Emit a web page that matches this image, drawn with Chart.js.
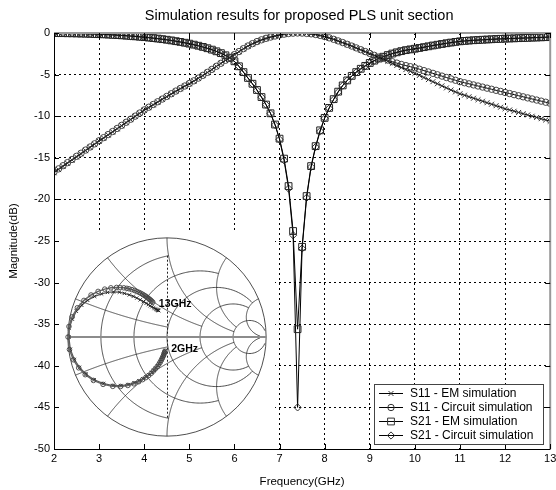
<!DOCTYPE html>
<html>
<head>
<meta charset="utf-8">
<script src="https://cdn.jsdelivr.net/npm/chart.js@4.4.0/dist/chart.umd.min.js"></script>
<style>
  html, body { margin: 0; padding: 0; background: #fff; }
  #wrap { position: relative; width: 556px; height: 490px; }
  #mainChart { position: absolute; left: 0; top: 0; }
  #smithChart { position: absolute; left: 59px; top: 229px; }
</style>
</head>
<body>
<div id="wrap">
  <canvas id="mainChart" width="556" height="490"></canvas>
  <canvas id="smithChart" width="216" height="216"></canvas>
</div>
<script>
// frequency points (GHz)
const freqs = [
  2, 2.1, 2.2, 2.3, 2.4, 2.5, 2.6, 2.7, 2.8, 2.9,
  3, 3.1, 3.2, 3.3, 3.4, 3.5, 3.6, 3.7, 3.8, 3.9,
  4, 4.1, 4.2, 4.3, 4.4, 4.5, 4.6, 4.7, 4.8, 4.9,
  5, 5.1, 5.2, 5.3, 5.4, 5.5, 5.6, 5.7, 5.8, 5.9,
  6, 6.1, 6.2, 6.3, 6.4, 6.5, 6.6, 6.7, 6.8, 6.9,
  7, 7.1, 7.2, 7.3, 7.4, 7.5, 7.6, 7.7, 7.8, 7.9,
  8, 8.1, 8.2, 8.3, 8.4, 8.5, 8.6, 8.7, 8.8, 8.9,
  9, 9.1, 9.2, 9.3, 9.4, 9.5, 9.6, 9.7, 9.8, 9.9,
  10, 10.1, 10.2, 10.3, 10.4, 10.5, 10.6, 10.7, 10.8, 10.9,
  11, 11.1, 11.2, 11.3, 11.4, 11.5, 11.6, 11.7, 11.8, 11.9,
  12, 12.1, 12.2, 12.3, 12.4, 12.5, 12.6, 12.7, 12.8, 12.9,
  13
];

// magnitudes in dB
const s11EM = [
  -16.8, -16.42, -16.04, -15.66, -15.28, -14.9, -14.52, -14.14, -13.76, -13.38,
  -13.0, -12.63, -12.26, -11.89, -11.52, -11.15, -10.78, -10.41, -10.04, -9.67,
  -9.3, -8.97, -8.64, -8.31, -7.98, -7.66, -7.34, -7.02, -6.7, -6.4,
  -6.1, -5.78, -5.45, -5.12, -4.76, -4.4, -4.03, -3.66, -3.3, -2.95,
  -2.62, -2.25, -1.9, -1.58, -1.3, -1.05, -0.84, -0.66, -0.5, -0.37,
  -0.25, -0.15, -0.07, -0.02, 0, -0.01, -0.05, -0.11, -0.19, -0.3,
  -0.44, -0.59, -0.77, -0.96, -1.16, -1.37, -1.58, -1.8, -2.02, -2.24,
  -2.47, -2.7, -2.93, -3.15, -3.4, -3.65, -3.9, -4.15, -4.4, -4.6,
  -4.85, -5.1, -5.35, -5.6, -5.85, -6.1, -6.35, -6.6, -6.85, -7.08,
  -7.3, -7.48, -7.66, -7.84, -8.02, -8.2, -8.38, -8.56, -8.74, -8.92,
  -9.1, -9.25, -9.4, -9.55, -9.7, -9.85, -10.0, -10.15, -10.3, -10.45,
  -10.6
];
const s11Circuit = [
  -16.7, -16.33, -15.95, -15.58, -15.2, -14.82, -14.45, -14.07, -13.7, -13.32,
  -12.95, -12.58, -12.21, -11.84, -11.47, -11.1, -10.73, -10.36, -9.99, -9.62,
  -9.25, -8.92, -8.59, -8.26, -7.94, -7.62, -7.3, -6.98, -6.67, -6.37,
  -6.07, -5.75, -5.42, -5.09, -4.73, -4.37, -4.0, -3.64, -3.28, -2.93,
  -2.6, -2.23, -1.88, -1.56, -1.28, -1.03, -0.82, -0.64, -0.49, -0.36,
  -0.24, -0.14, -0.06, -0.02, 0, -0.01, -0.05, -0.1, -0.18, -0.29,
  -0.43, -0.58, -0.76, -0.95, -1.15, -1.36, -1.57, -1.79, -2.01, -2.23,
  -2.46, -2.68, -2.9, -3.05, -3.25, -3.45, -3.62, -3.78, -3.92, -4.05,
  -4.18, -4.35, -4.52, -4.68, -4.85, -5.02, -5.18, -5.35, -5.52, -5.68,
  -5.85, -5.98, -6.11, -6.24, -6.37, -6.5, -6.63, -6.76, -6.89, -7.02,
  -7.15, -7.28, -7.41, -7.54, -7.67, -7.8, -7.93, -8.06, -8.19, -8.32,
  -8.45
];
const s21EM = [
  0, -0.01, -0.02, -0.03, -0.04, -0.05, -0.07, -0.08, -0.1, -0.12,
  -0.14, -0.16, -0.19, -0.22, -0.25, -0.28, -0.32, -0.36, -0.4, -0.45,
  -0.5, -0.55, -0.61, -0.67, -0.74, -0.81, -0.89, -0.98, -1.07, -1.17,
  -1.28, -1.4, -1.53, -1.67, -1.83, -2.0, -2.2, -2.42, -2.68, -2.98,
  -3.4, -4.0, -4.7, -5.4, -6.1, -6.85, -7.7, -8.6, -9.65, -11.0,
  -12.7, -15.1, -18.4, -23.8, -35.6, -25.7, -19.6, -16.0, -13.6, -11.7,
  -10.2, -9.0, -7.95, -7.05, -6.3, -5.7, -5.15, -4.7, -4.3, -3.95,
  -3.6, -3.32, -3.07, -2.85, -2.65, -2.47, -2.32, -2.18, -2.06, -1.97,
  -1.89, -1.8, -1.7, -1.6, -1.5, -1.41, -1.32, -1.23, -1.15, -1.07,
  -1.0, -0.95, -0.91, -0.87, -0.84, -0.81, -0.78, -0.75, -0.72, -0.7,
  -0.68, -0.66, -0.64, -0.62, -0.6, -0.58, -0.56, -0.54, -0.52, -0.5,
  -0.48
];
const s21Circuit = [
  0, -0.01, -0.02, -0.03, -0.04, -0.06, -0.07, -0.09, -0.11, -0.13,
  -0.15, -0.17, -0.2, -0.23, -0.26, -0.3, -0.34, -0.38, -0.42, -0.47,
  -0.52, -0.57, -0.63, -0.69, -0.76, -0.83, -0.91, -1.0, -1.09, -1.19,
  -1.3, -1.42, -1.55, -1.69, -1.85, -2.02, -2.22, -2.44, -2.7, -3.0,
  -3.42, -4.02, -4.72, -5.42, -6.12, -6.88, -7.72, -8.62, -9.68, -11.05,
  -12.8, -15.3, -18.7, -24.3, -45.0, -25.9, -19.8, -16.1, -13.7, -11.8,
  -10.25, -9.05, -8.0, -7.1, -6.33, -5.72, -5.17, -4.72, -4.32, -3.97,
  -3.62, -3.34, -3.09, -2.87, -2.67, -2.49, -2.34, -2.2, -2.08, -1.99,
  -1.91, -1.82, -1.72, -1.62, -1.52, -1.43, -1.34, -1.25, -1.17, -1.09,
  -1.02, -0.97, -0.93, -0.89, -0.86, -0.83, -0.8, -0.77, -0.74, -0.72,
  -0.7, -0.68, -0.66, -0.64, -0.62, -0.6, -0.58, -0.56, -0.54, -0.52,
  -0.5
];

// S11 on the Smith chart, [re, im] every 0.2 GHz from 2 to 13 GHz
const smithEM = [
  [-0.018, -0.135], [-0.022, -0.148], [-0.027, -0.162], [-0.032, -0.177], [-0.039, -0.193],
  [-0.047, -0.21], [-0.056, -0.228], [-0.067, -0.248], [-0.08, -0.269], [-0.096, -0.291],
  [-0.115, -0.314], [-0.134, -0.335], [-0.156, -0.358], [-0.182, -0.38], [-0.211, -0.402],
  [-0.243, -0.422], [-0.282, -0.443], [-0.331, -0.463], [-0.392, -0.48], [-0.465, -0.49],
  [-0.544, -0.489], [-0.64, -0.47], [-0.735, -0.432], [-0.817, -0.375], [-0.882, -0.307],
  [-0.935, -0.227], [-0.975, -0.124], [-0.99, 0.0], [-0.985, 0.09], [-0.955, 0.18],
  [-0.915, 0.26], [-0.86, 0.32], [-0.8, 0.37], [-0.73, 0.41], [-0.66, 0.435],
  [-0.6, 0.45], [-0.54, 0.455], [-0.48, 0.452], [-0.43, 0.44], [-0.38, 0.425],
  [-0.34, 0.41], [-0.305, 0.393], [-0.27, 0.375], [-0.238, 0.357], [-0.21, 0.34],
  [-0.188, 0.327], [-0.17, 0.315], [-0.152, 0.305], [-0.135, 0.295], [-0.122, 0.287],
  [-0.11, 0.28], [-0.102, 0.276], [-0.095, 0.272], [-0.09, 0.27], [-0.087, 0.268],
  [-0.084, 0.266]
];
const smithCircuit = [
  [-0.021, -0.143], [-0.025, -0.156], [-0.03, -0.17], [-0.035, -0.185], [-0.042, -0.201],
  [-0.05, -0.218], [-0.059, -0.236], [-0.07, -0.256], [-0.083, -0.277], [-0.099, -0.299],
  [-0.118, -0.322], [-0.137, -0.343], [-0.159, -0.366], [-0.185, -0.388], [-0.214, -0.41],
  [-0.246, -0.43], [-0.285, -0.451], [-0.334, -0.472], [-0.395, -0.489], [-0.468, -0.499],
  [-0.547, -0.498], [-0.645, -0.478], [-0.742, -0.438], [-0.825, -0.38], [-0.891, -0.311],
  [-0.944, -0.23], [-0.984, -0.126], [-0.998, 0.0], [-0.989, 0.106], [-0.957, 0.203],
  [-0.904, 0.295], [-0.838, 0.369], [-0.766, 0.424], [-0.695, 0.46], [-0.628, 0.483],
  [-0.566, 0.496], [-0.509, 0.5], [-0.473, 0.499], [-0.435, 0.496], [-0.405, 0.491],
  [-0.382, 0.486], [-0.354, 0.478], [-0.327, 0.469], [-0.303, 0.459], [-0.28, 0.449],
  [-0.262, 0.44], [-0.245, 0.43], [-0.231, 0.421], [-0.218, 0.413], [-0.205, 0.404],
  [-0.193, 0.395], [-0.182, 0.386], [-0.171, 0.377], [-0.161, 0.368], [-0.152, 0.359],
  [-0.143, 0.35]
];

const seriesLabels = ['S11 - EM simulation', 'S11 - Circuit simulation', 'S21 - EM simulation', 'S21 - Circuit simulation'];
const chartTitle = 'Simulation results for proposed PLS unit section';
const xTitle = 'Frequency(GHz)';
const yTitle = 'Magnitude(dB)';
const startLabel = '2GHz';
const endLabel = '13GHz';

// smith grid: [value, limit]
const rCircles = [[0.2, 1], [0.5, 2], [1, 5], [2, 5], [5, 30]];
const xArcs = [[0.2, 1], [0.5, 2], [1, 5], [2, 5], [5, 30]];

// area of the main axes covered by the inset (in data units)
const insetArea = { x0: 2, x1: 6.9, y0: -50, y1: -23.7 };

const FONT = '"Liberation Sans", Arial, Helvetica, sans-serif';
Chart.defaults.font.family = FONT;
Chart.defaults.color = '#000';

const toPoints = arr => arr.map((v, i) => ({ x: freqs[i], y: v }));

function drawMarker(ctx, style, x, y, r) {
  ctx.beginPath();
  if (style === 'circle') {
    ctx.arc(x, y, r, 0, Math.PI * 2);
  } else if (style === 'rect') {
    const s = r * Math.SQRT1_2;
    ctx.rect(x - s, y - s, 2 * s, 2 * s);
  } else if (style === 'rectRot') {
    ctx.moveTo(x, y - r); ctx.lineTo(x + r, y); ctx.lineTo(x, y + r); ctx.lineTo(x - r, y); ctx.closePath();
  } else {
    const s = r * Math.SQRT1_2;
    ctx.moveTo(x - s, y - s); ctx.lineTo(x + s, y + s);
    ctx.moveTo(x + s, y - s); ctx.lineTo(x - s, y + s);
  }
  ctx.stroke();
}

const matlabAxes = {
  id: 'matlabAxes',
  beforeDatasetsDraw(chart) {
    // white background of the inset
    const { ctx, scales: { x, y } } = chart;
    const l = x.getPixelForValue(insetArea.x0), r = x.getPixelForValue(insetArea.x1);
    const t = y.getPixelForValue(insetArea.y1), b = y.getPixelForValue(insetArea.y0);
    ctx.save();
    ctx.fillStyle = '#fff';
    ctx.fillRect(l, t, r - l, b - t);
    ctx.restore();
  },
  afterDraw(chart) {
    const { ctx, chartArea: a, scales: { x, y } } = chart;
    ctx.save();
    // box
    ctx.strokeStyle = '#999';
    ctx.lineWidth = 2;
    ctx.beginPath();
    ctx.moveTo(a.left, a.top); ctx.lineTo(a.right, a.top); ctx.lineTo(a.right, a.bottom);
    ctx.stroke();
    ctx.strokeStyle = '#000';
    ctx.lineWidth = 1;
    ctx.beginPath();
    ctx.moveTo(a.left + 0.5, a.top); ctx.lineTo(a.left + 0.5, a.bottom + 0.5); ctx.lineTo(a.right, a.bottom + 0.5);
    // inward ticks
    x.ticks.forEach(tk => {
      const px = Math.round(x.getPixelForValue(tk.value)) + 0.5;
      ctx.moveTo(px, a.bottom); ctx.lineTo(px, a.bottom - 5);
      ctx.moveTo(px, a.top); ctx.lineTo(px, a.top + 5);
    });
    y.ticks.forEach(tk => {
      const py = Math.round(y.getPixelForValue(tk.value)) + 0.5;
      ctx.moveTo(a.left, py); ctx.lineTo(a.left + 5, py);
      ctx.moveTo(a.right, py); ctx.lineTo(a.right - 5, py);
    });
    ctx.stroke();

    // title
    ctx.fillStyle = '#000';
    ctx.font = '14.5px ' + FONT;
    ctx.textAlign = 'center';
    ctx.textBaseline = 'middle';
    ctx.fillText(chartTitle, (a.left + a.right) / 2 - 3, 16);

    // legend
    ctx.font = '12px ' + FONT;
    const sets = chart.data.datasets;
    const rowH = 14, lineLen = 24, pad = 5;
    const textW = Math.max(...sets.map(d => ctx.measureText(d.label).width));
    const w = Math.round(pad + lineLen + 7 + textW + 10);
    const h = rowH * sets.length + 4;
    const right = Math.round(a.right) - 7, bottom = Math.round(a.bottom) - 5;
    const left = right - w, top = bottom - h;
    ctx.fillStyle = '#fff';
    ctx.fillRect(left, top, w, h);
    ctx.strokeStyle = '#444';
    ctx.strokeRect(left + 0.5, top + 0.5, w, h);
    sets.forEach((d, i) => {
      const cy = top + 9.5 + i * rowH;
      ctx.strokeStyle = '#000';
      ctx.lineWidth = 1;
      ctx.beginPath();
      ctx.moveTo(left + pad, cy); ctx.lineTo(left + pad + lineLen, cy);
      ctx.stroke();
      ctx.strokeStyle = '#333';
      drawMarker(ctx, d.pointStyle, left + pad + lineLen / 2, cy, d.pointRadius);
      ctx.fillStyle = '#000';
      ctx.textAlign = 'left';
      ctx.textBaseline = 'middle';
      ctx.fillText(d.label, left + pad + lineLen + 7, cy + 0.5);
    });
    ctx.restore();
  }
};

new Chart(document.getElementById('mainChart').getContext('2d'), {
  type: 'line',
  data: {
    datasets: [{
      label: seriesLabels[0],
      data: toPoints(s11EM),
      borderColor: '#000',
      borderWidth: 1,
      pointStyle: 'crossRot',
      pointRadius: 3.5,
      pointBorderColor: '#333',
      pointBorderWidth: 1
    }, {
      label: seriesLabels[1],
      data: toPoints(s11Circuit),
      borderColor: '#000',
      borderWidth: 1,
      pointStyle: 'circle',
      pointRadius: 3.2,
      pointBackgroundColor: 'rgba(0,0,0,0)',
      pointBorderColor: '#444',
      pointBorderWidth: 1
    }, {
      label: seriesLabels[2],
      data: toPoints(s21EM),
      borderColor: '#000',
      borderWidth: 1,
      pointStyle: 'rect',
      pointRadius: 4.8,
      pointBackgroundColor: 'rgba(0,0,0,0)',
      pointBorderColor: '#222',
      pointBorderWidth: 1
    }, {
      label: seriesLabels[3],
      data: toPoints(s21Circuit),
      borderColor: '#000',
      borderWidth: 1,
      pointStyle: 'rectRot',
      pointRadius: 3.6,
      pointBackgroundColor: 'rgba(0,0,0,0)',
      pointBorderColor: '#333',
      pointBorderWidth: 1
    }]
  },
  options: {
    responsive: false,
    animation: false,
    devicePixelRatio: 1,
    layout: { padding: { top: 33, right: 4, left: 0, bottom: 0 } },
    plugins: { legend: { display: false }, tooltip: { enabled: false }, title: { display: false } },
    scales: {
      x: {
        type: 'linear',
        min: 2, max: 13,
        ticks: { stepSize: 1, padding: 3, font: { size: 11 }, maxRotation: 0 },
        grid: { color: '#000', lineWidth: 1, drawTicks: false },
        border: { display: false, dash: [2, 3] },
        title: { display: true, text: xTitle, font: { size: 11.5 }, padding: { top: 0, bottom: 1 } },
        afterFit(scale) { scale.height = 41; scale.paddingLeft = 0; scale.paddingRight = 0; }
      },
      y: {
        type: 'linear',
        min: -50, max: 0,
        ticks: { stepSize: 5, padding: 4, font: { size: 11 } },
        grid: { color: '#000', lineWidth: 1, drawTicks: false },
        border: { display: false, dash: [2, 3] },
        title: { display: true, text: yTitle, font: { size: 11.5 }, padding: { top: 7, bottom: 0 } },
        afterFit(scale) { scale.width = 54; scale.paddingTop = 0; scale.paddingBottom = 0; }
      }
    }
  },
  plugins: [matlabAxes]
});

// ---- Smith chart inset ----
const smithGrid = {
  id: 'smithGrid',
  beforeDatasetsDraw(chart) {
    const { ctx, scales: { x, y } } = chart;
    const P = (re, im) => [x.getPixelForValue(re), y.getPixelForValue(im)];
    const gamma = (r, xx) => {
      const d = (r + 1) * (r + 1) + xx * xx;
      return [(r * r - 1 + xx * xx) / d, 2 * xx / d];
    };
    const trace = pts => {
      ctx.beginPath();
      pts.forEach((g, i) => {
        const [px, py] = P(g[0], g[1]);
        if (i) ctx.lineTo(px, py); else ctx.moveTo(px, py);
      });
      ctx.stroke();
    };
    ctx.save();
    ctx.strokeStyle = '#222';
    ctx.lineWidth = 0.8;
    const N = 240;
    rCircles.forEach(([r, lim]) => {
      const u = Math.atan(lim), pts = [];
      for (let i = 0; i <= N; i++) pts.push(gamma(r, Math.tan(-u + 2 * u * i / N)));
      trace(pts);
    });
    xArcs.forEach(([xv, lim]) => {
      [xv, -xv].forEach(v => {
        const u = Math.atan(lim), pts = [];
        for (let i = 0; i <= N; i++) pts.push(gamma(Math.tan(u * i / N), v));
        trace(pts);
      });
    });
    const [cx, cy] = P(0, 0);
    const rad = x.getPixelForValue(1) - cx;
    ctx.beginPath();
    ctx.arc(cx, cy, rad, 0, Math.PI * 2);
    ctx.stroke();
    // dashed centre line
    ctx.setLineDash([2, 2]);
    ctx.lineWidth = 1;
    ctx.beginPath();
    ctx.moveTo(Math.round(cx) + 0.5, y.getPixelForValue(0.82));
    ctx.lineTo(Math.round(cx) + 0.5, y.getPixelForValue(-0.82));
    ctx.stroke();
    ctx.setLineDash([]);
    // real axis
    ctx.strokeStyle = '#8c8c8c';
    ctx.lineWidth = 2;
    ctx.beginPath();
    ctx.moveTo(x.getPixelForValue(-1), Math.round(cy));
    ctx.lineTo(x.getPixelForValue(1), Math.round(cy));
    ctx.stroke();
    ctx.restore();
  },
  afterDatasetsDraw(chart) {
    const { ctx, scales: { x, y } } = chart;
    const last = smithCircuit[smithCircuit.length - 1];
    const first = smithEM[0];
    ctx.save();
    ctx.fillStyle = '#000';
    ctx.font = 'bold 10.5px ' + FONT;
    ctx.textBaseline = 'middle';
    ctx.fillText(endLabel, x.getPixelForValue(last[0]) + 6, y.getPixelForValue(last[1]) + 1.5);
    ctx.fillText(startLabel, x.getPixelForValue(first[0]) + 6, y.getPixelForValue(first[1]) - 1);
    ctx.restore();
  }
};

new Chart(document.getElementById('smithChart').getContext('2d'), {
  type: 'scatter',
  data: {
    datasets: [{
      label: seriesLabels[1],
      data: smithCircuit.map(p => ({ x: p[0], y: p[1] })),
      pointStyle: 'circle',
      pointRadius: 2.3,
      pointBorderWidth: 0.9,
      pointBorderColor: '#444',
      pointBackgroundColor: 'rgba(0,0,0,0)',
      showLine: true,
      borderColor: '#666',
      borderWidth: 1.5
    }, {
      label: seriesLabels[0],
      data: smithEM.map(p => ({ x: p[0], y: p[1] })),
      pointStyle: 'crossRot',
      pointRadius: 2.4,
      pointBorderWidth: 0.9,
      pointBorderColor: '#222',
      showLine: true,
      borderColor: '#555',
      borderWidth: 1.2
    }]
  },
  options: {
    responsive: false,
    animation: false,
    devicePixelRatio: 1,
    layout: { padding: 0 },
    plugins: { legend: { display: false }, tooltip: { enabled: false } },
    scales: {
      x: { type: 'linear', min: -1.04, max: 1.04, display: false },
      y: { type: 'linear', min: -1.04, max: 1.04, display: false }
    }
  },
  plugins: [smithGrid]
});
</script>
</body>
</html>
